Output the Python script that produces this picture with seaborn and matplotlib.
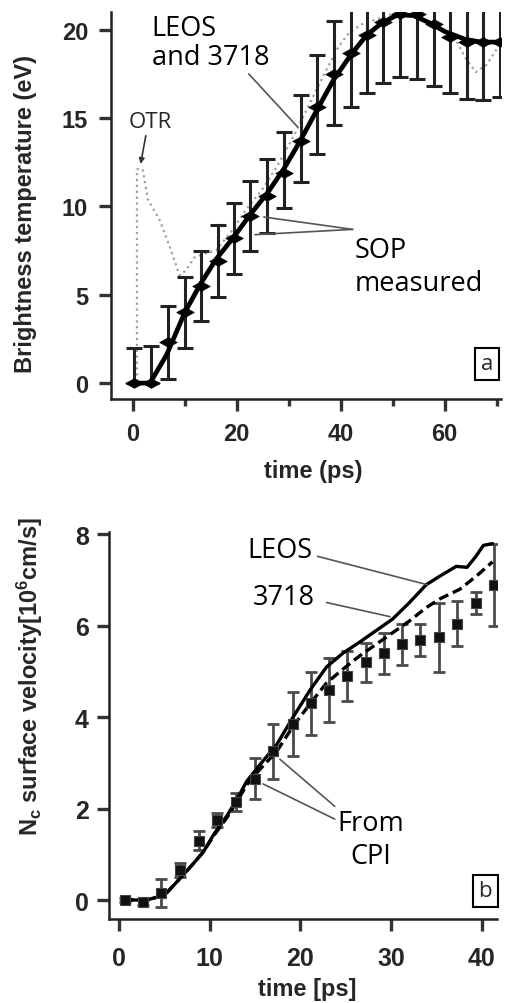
import matplotlib
matplotlib.use('Agg')
import matplotlib.pyplot as plt
import pandas as pd
import seaborn as sns
from matplotlib.path import Path

# ---- panel a : brightness temperature ----
sop_t = [0.2, 3.5, 6.7, 10.1, 13.2, 16.3, 19.4, 22.6, 25.8, 29.1, 32.3, 35.4,
         38.7, 41.9, 45.1, 48.2, 51.4, 54.6, 57.9, 61.1, 64.2, 67.4, 70.6]
sop_v = [0.0, 0.0, 2.3, 4.0, 5.5, 6.9, 8.2, 9.45, 10.6, 11.9, 13.7, 15.65,
         17.5, 18.7, 19.7, 20.45, 20.9, 20.9, 20.3, 19.6, 19.3, 19.3, 19.3]
sop_err_hi = [2.0, 2.1, 2.05, 2.0, 2.0, 2.05, 2.0, 2.0, 2.1, 2.3, 2.6, 2.9,
              3.0, 3.1, 3.3, 3.45, 3.6, 3.7, 3.5, 3.2, 3.2, 3.3, 3.1]
sop_err_lo = [0.0, 0.0, 2.05, 2.0, 2.0, 2.05, 2.0, 2.0, 2.1, 2.0, 2.3, 2.7,
              2.9, 3.1, 3.3, 3.45, 3.6, 3.7, 3.5, 3.2, 3.2, 3.3, 3.1]

sim_t = [0, 3.3, 6.5, 10, 13, 16, 19.5, 22.5, 26, 29, 32, 35.5, 38.7, 42, 45,
         48, 51, 54, 57, 60, 64, 67, 71]
sim_v = [0, 0, 1.6, 4.0, 5.6, 7.0, 8.3, 9.5, 10.8, 12.1, 13.6, 15.5, 17.2, 18.6,
         19.7, 20.4, 20.85, 20.8, 20.4, 19.9, 19.45, 19.3, 19.3]

otr_t = [0, 0.8, 0.8, 1.9, 2.9, 5.2, 7.0, 9.0, 10.3, 11.8, 13.5, 16, 19, 22, 25,
         28, 31, 34, 37, 39.5, 41.5, 44, 47, 50, 53, 56, 59, 62, 64, 66, 68, 70, 71]
otr_v = [0, 0, 12.1, 12.1, 10.4, 9.2, 7.8, 6.1, 6.4, 7.1, 7.3, 7.5, 8.6, 9.9,
         11.0, 12.4, 14.0, 15.8, 17.6, 19.0, 19.8, 20.3, 20.6, 20.9, 20.9, 20.6,
         20.1, 19.5, 18.4, 17.6, 18.0, 18.9, 19.1]

# ---- panel b : surface velocity ----
cpi_t = [0.7, 2.6, 4.6, 6.7, 8.8, 10.8, 12.9, 15.0, 17.0, 19.2, 21.2, 23.2,
         25.2, 27.2, 29.2, 31.2, 33.2, 35.3, 37.3, 39.4, 41.4]
cpi_v = [0.0, -0.05, 0.15, 0.65, 1.3, 1.75, 2.15, 2.65, 3.25, 3.85, 4.3, 4.6,
         4.9, 5.2, 5.4, 5.6, 5.7, 5.75, 6.05, 6.5, 6.9]
cpi_err = [0.05, 0.05, 0.3, 0.15, 0.2, 0.15, 0.2, 0.45, 0.6, 0.7, 0.7, 0.7,
           0.55, 0.42, 0.45, 0.45, 0.35, 0.75, 0.5, 0.25, 0.9]

leos_t = [0.5, 3, 5, 6.4, 8, 9.3, 10.5, 11.9, 13, 14.1, 15.5, 17.4, 19.2, 21.1,
          22.9, 24.7, 26.6, 28.4, 30.2, 32, 33.9, 35.5, 37.2, 38.4, 39.3, 40.2, 41.2]
leos_v = [0, 0, 0.1, 0.4, 0.75, 1.05, 1.45, 1.84, 2.2, 2.6, 2.95, 3.4, 4.0, 4.6,
          5.1, 5.4, 5.65, 5.9, 6.15, 6.5, 6.9, 7.1, 7.3, 7.28, 7.5, 7.76, 7.8]

eos_t = [0.5, 3, 5, 6.4, 8, 9.3, 10.5, 11.9, 13, 14.1, 15.5, 17.4, 19.2, 21.1,
         22.9, 24.7, 26.6, 28.4, 30.2, 32, 33.9, 35.5, 37.6, 39.5, 41.2]
eos_v = [0, 0, 0.1, 0.4, 0.75, 1.05, 1.42, 1.8, 2.15, 2.52, 2.85, 3.25, 3.8, 4.3,
         4.75, 5.05, 5.35, 5.6, 5.85, 6.1, 6.4, 6.6, 6.8, 7.1, 7.4]

sns.set_theme(style='ticks')
plt.rcParams['font.family'] = ['Liberation Sans', 'DejaVu Sans']
plt.rcParams['mathtext.fontset'] = 'custom'
plt.rcParams['mathtext.rm'] = 'Liberation Sans:bold'
plt.rcParams['mathtext.bf'] = 'Liberation Sans:bold'
plt.rcParams['mathtext.it'] = 'Liberation Sans:bold'

note_font = dict(family=['Open Sans', 'DejaVu Sans'], size=19.5, color='black')
lead = dict(arrowstyle='-', color='#555555', lw=1.2, shrinkA=0, shrinkB=0)

fig = plt.figure(figsize=(5.1, 10.04), dpi=100)
ax1 = fig.add_axes([0.2176, 0.6016, 0.7644, 0.3854])
ax2 = fig.add_axes([0.2137, 0.0837, 0.7608, 0.3853])

wide_diamond = Path([(-1, 0), (0, 0.55), (1, 0), (0, -0.55), (-1, 0)],
                    [Path.MOVETO, Path.LINETO, Path.LINETO, Path.LINETO, Path.CLOSEPOLY])

# panel a
sns.lineplot(x=otr_t, y=otr_v, ax=ax1, color='#a0a0a0', lw=1.6, linestyle=':',
             sort=False, estimator=None, zorder=1)
ax1.errorbar(sop_t, sop_v, yerr=[sop_err_lo, sop_err_hi], fmt='none',
             ecolor='#222222', elinewidth=2.2, capsize=5.5, capthick=2.2, zorder=2)
sns.lineplot(x=sim_t, y=sim_v, ax=ax1, color='black', lw=3.4,
             sort=False, estimator=None, zorder=3)
sns.scatterplot(x=sop_t, y=sop_v, ax=ax1, marker=wide_diamond, s=160,
                color='black', edgecolor='black', linewidth=0.5, zorder=4)

ax1.set_xlim(-4.2, 70.8)
ax1.set_ylim(-0.9, 21.0)
ax1.set_xticks([0, 20, 40, 60])
ax1.set_xticks([10, 30, 50, 70], minor=True)
ax1.set_yticks([0, 5, 10, 15, 20])
ax1.set_xlabel('time (ps)', fontsize=17, fontweight='bold')
ax1.set_ylabel('Brightness temperature (eV)', fontsize=17, fontweight='bold')
ax1.xaxis.set_label_coords(0.518, -0.155)
ax1.yaxis.set_label_coords(-0.19, 0.48)

ax1.text(3.6, 20.9, 'LEOS\nand 3718', ha='left', va='top', linespacing=1.05, **note_font)
ax1.annotate('', xy=(31.7, 14.5), xytext=(22.3, 17.5), arrowprops=lead)
ax1.text(42.7, 6.6, 'SOP\nmeasured', ha='left', va='center', linespacing=1.2, **note_font)
ax1.annotate('', xy=(25.2, 9.4), xytext=(42.3, 8.7), arrowprops=lead)
ax1.annotate('', xy=(23.5, 8.4), xytext=(42.3, 8.7), arrowprops=lead)
ax1.text(3.3, 14.8, 'OTR', ha='center', va='center',
         family=['Open Sans', 'DejaVu Sans'], size=16)
ax1.annotate('', xy=(1.5, 12.4), xytext=(2.5, 14.0),
             arrowprops=dict(arrowstyle='-|>', color='#333333', lw=1.2,
                             mutation_scale=8, shrinkA=0, shrinkB=0))
ax1.text(68.1, 1.1, 'a', ha='center', va='center', family=['Open Sans', 'DejaVu Sans'],
         size=16, bbox=dict(boxstyle='square,pad=0.25', fc='white', ec='black', lw=1.5))

# panel b
ax2.errorbar(cpi_t, cpi_v, yerr=cpi_err, fmt='none', ecolor='#4a4a4a',
             elinewidth=2.0, capsize=4.5, capthick=2.0, zorder=2)
sns.lineplot(x=leos_t, y=leos_v, ax=ax2, color='black', lw=2.4,
             sort=False, estimator=None, zorder=3)
sns.lineplot(x=eos_t, y=eos_v, ax=ax2, color='black', lw=2.4, linestyle=(0, (3, 1.5)),
             sort=False, estimator=None, zorder=3)
sns.scatterplot(x=cpi_t, y=cpi_v, ax=ax2, marker='s', s=50, color='#111111',
                edgecolor='#444444', linewidth=0.8, zorder=4)

ax2.set_xlim(-1.1, 41.7)
ax2.set_ylim(-0.415, 8.05)
ax2.set_xticks([0, 10, 20, 30, 40])
ax2.set_yticks([0, 2, 4, 6, 8])
ax2.set_xlabel('time [ps]', fontsize=17, fontweight='bold')
ax2.set_ylabel(r'N$_\mathbf{c}$ surface velocity[10$^\mathbf{6}$cm/s]',
               fontsize=17, fontweight='bold')
ax2.xaxis.set_label_coords(0.51, -0.15)
ax2.yaxis.set_label_coords(-0.165, 0.63)

ax2.text(14.2, 7.65, 'LEOS', ha='left', va='center', **note_font)
ax2.annotate('', xy=(34.0, 6.9), xytext=(21.9, 7.52), arrowprops=lead)
ax2.text(14.8, 6.64, '3718', ha='left', va='center', **note_font)
ax2.annotate('', xy=(29.9, 6.2), xytext=(22.9, 6.51), arrowprops=lead)
ax2.text(27.8, 1.33, 'From\nCPI', ha='center', va='center', linespacing=1.25, **note_font)
ax2.annotate('', xy=(17.75, 3.08), xytext=(23.8, 2.05), arrowprops=lead)
ax2.annotate('', xy=(15.9, 2.54), xytext=(23.8, 1.77), arrowprops=lead)
ax2.text(40.4, 0.2, 'b', ha='center', va='center', family=['Open Sans', 'DejaVu Sans'],
         size=16, bbox=dict(boxstyle='square,pad=0.25', fc='white', ec='black', lw=1.5))

for ax, fs, xpad, ypad in [(ax1, 17, 8, 8), (ax2, 18, 11, 6)]:
    sns.despine(ax=ax)
    for side in ['left', 'bottom']:
        ax.spines[side].set_color('#222222')
        ax.spines[side].set_linewidth(1.8)
    ax.tick_params(axis='both', which='major', direction='out', length=8.5, width=2.4,
                   color='#333333', labelsize=fs)
    ax.tick_params(axis='x', which='major', pad=xpad)
    ax.tick_params(axis='y', which='major', pad=ypad)
    ax.tick_params(axis='x', which='minor', direction='out', length=5, width=2.4,
                   color='#333333')
    for lab in ax.get_xticklabels() + ax.get_yticklabels():
        lab.set_fontweight('bold')

fig.savefig('out.png', dpi=100)
